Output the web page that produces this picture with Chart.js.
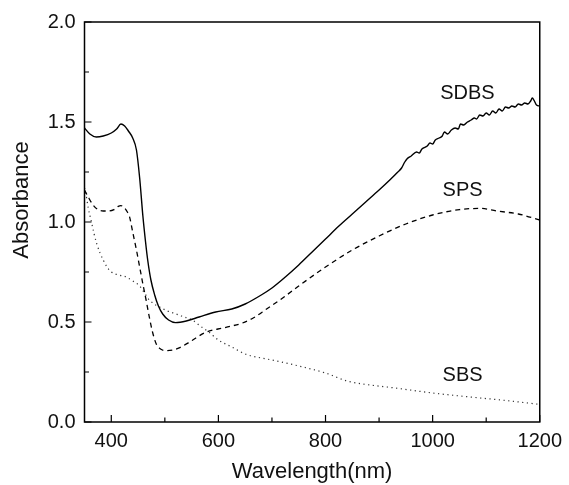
<!DOCTYPE html>
<html>
<head>
<meta charset="utf-8">
<script src="https://cdn.jsdelivr.net/npm/chart.js@4.4.1/dist/chart.umd.min.js"></script>
<style>
  html, body { margin: 0; padding: 0; background: #fff; }
  #wrap { width: 569px; height: 485px; position: relative; }
</style>
</head>
<body>
<div id="wrap"><canvas id="myChart" width="569" height="485"></canvas></div>
<script>
// wavelength (nm) / absorbance
const sdbsX = [350, 360, 372, 385, 400, 410, 418, 425, 432, 440, 447, 453, 459, 464, 468, 474, 481, 488, 496, 507, 520, 540, 564, 595, 625, 650, 680, 700, 725, 750, 775, 800, 825, 850, 875, 900, 920, 935, 942, 948, 952, 960, 970, 975, 980, 990, 995, 1000, 1005, 1012, 1018, 1022, 1028, 1035, 1042, 1048, 1052, 1058, 1065, 1072, 1078, 1082, 1088, 1094, 1100, 1106, 1112, 1118, 1124, 1130, 1136, 1142, 1148, 1154, 1160, 1166, 1172, 1178, 1183, 1186, 1190, 1194, 1200];
const sdbsY = [1.47, 1.44, 1.425, 1.43, 1.445, 1.465, 1.49, 1.48, 1.455, 1.42, 1.36, 1.22, 1.03, 0.9, 0.81, 0.71, 0.635, 0.58, 0.54, 0.51, 0.497, 0.505, 0.525, 0.55, 0.565, 0.59, 0.635, 0.67, 0.725, 0.785, 0.85, 0.915, 0.98, 1.04, 1.1, 1.16, 1.21, 1.25, 1.27, 1.3, 1.315, 1.33, 1.35, 1.345, 1.365, 1.38, 1.395, 1.39, 1.41, 1.42, 1.43, 1.45, 1.44, 1.46, 1.47, 1.465, 1.49, 1.485, 1.5, 1.51, 1.52, 1.515, 1.535, 1.53, 1.545, 1.535, 1.555, 1.545, 1.565, 1.555, 1.575, 1.57, 1.58, 1.575, 1.59, 1.585, 1.595, 1.59, 1.605, 1.62, 1.605, 1.585, 1.58];

const spsX = [350, 358, 366, 375, 385, 395, 405, 413, 418, 425, 430, 434, 440, 447, 453, 459, 465, 471, 477, 484, 492, 503, 515, 528, 542, 558, 575, 590, 605, 625, 645, 665, 690, 720, 750, 800, 850, 900, 950, 1000, 1050, 1090, 1120, 1160, 1200];
const spsY = [1.16, 1.12, 1.085, 1.062, 1.055, 1.055, 1.062, 1.078, 1.082, 1.07, 1.05, 1.027, 0.95, 0.86, 0.775, 0.69, 0.61, 0.525, 0.45, 0.39, 0.365, 0.357, 0.36, 0.372, 0.393, 0.42, 0.447, 0.46, 0.468, 0.48, 0.495, 0.52, 0.565, 0.62, 0.68, 0.775, 0.86, 0.93, 0.99, 1.035, 1.062, 1.068, 1.055, 1.04, 1.01];

const sbsX = [350, 352, 357, 363, 368, 373, 379, 385, 392, 400, 414, 428, 440, 453, 462, 471, 480, 490, 505, 521, 536, 551, 566, 582, 600, 625, 650, 680, 700, 750, 800, 840, 870, 930, 1000, 1070, 1135, 1200];
const sbsY = [1.17, 1.15, 1.07, 1.0, 0.94, 0.89, 0.845, 0.81, 0.775, 0.75, 0.735, 0.725, 0.705, 0.68, 0.645, 0.61, 0.59, 0.575, 0.555, 0.54, 0.525, 0.51, 0.48, 0.45, 0.41, 0.375, 0.34, 0.32, 0.31, 0.28, 0.245, 0.205, 0.19, 0.17, 0.145, 0.125, 0.108, 0.088];

const xTicks = [400, 600, 800, 1000, 1200];
const xMinorTicks = [500, 700, 900, 1100];
const yTicks = [0, 0.5, 1.0, 1.5, 2.0];
const yMinorTicks = [0.25, 0.75, 1.25, 1.75];

const seriesNames = ["SDBS", "SPS", "SBS"];
const labelX = [1065, 1056, 1056];
const labelY = [1.642, 1.158, 0.233];

const FONT = "'Liberation Sans', Arial, Helvetica, sans-serif";

const toPoints = (xs, ys) => xs.map((x, i) => ({ x: x, y: ys[i] }));

// inward ticks, frame, y title and curve names
const decorPlugin = {
  id: "decor",
  afterDraw(chart) {
    const ctx = chart.ctx;
    const { left, right, top, bottom } = chart.chartArea;
    const xs = chart.scales.x;
    const ys = chart.scales.y;
    ctx.save();
    ctx.strokeStyle = "#000";
    ctx.lineWidth = 1.5;
    ctx.strokeRect(left, top, right - left, bottom - top);
    ctx.lineWidth = 1.2;
    ctx.beginPath();
    xTicks.forEach((v) => {
      const px = xs.getPixelForValue(v);
      ctx.moveTo(px, bottom);
      ctx.lineTo(px, bottom - 7);
    });
    xMinorTicks.forEach((v) => {
      const px = xs.getPixelForValue(v);
      ctx.moveTo(px, bottom);
      ctx.lineTo(px, bottom - 4.5);
    });
    yTicks.forEach((v) => {
      const py = ys.getPixelForValue(v);
      ctx.moveTo(left, py);
      ctx.lineTo(left + 7, py);
    });
    yMinorTicks.forEach((v) => {
      const py = ys.getPixelForValue(v);
      ctx.moveTo(left, py);
      ctx.lineTo(left + 4.5, py);
    });
    ctx.stroke();

    ctx.fillStyle = "#111";
    ctx.font = "20px " + FONT;
    ctx.textAlign = "center";
    ctx.textBaseline = "middle";
    seriesNames.forEach((name, i) => {
      ctx.fillText(name, xs.getPixelForValue(labelX[i]), ys.getPixelForValue(labelY[i]));
    });

    // y axis title sits a little above the middle of the frame
    ctx.font = "22px " + FONT;
    ctx.translate(22, ys.getPixelForValue(1.11));
    ctx.rotate(-Math.PI / 2);
    ctx.fillText("Absorbance", 0, 0);
    ctx.restore();
  },
};

const ctx = document.getElementById("myChart").getContext("2d");
const myChart = new Chart(ctx, {
  type: "line",
  data: {
    datasets: [
      {
        label: seriesNames[0],
        data: toPoints(sdbsX, sdbsY),
        borderColor: "#000",
        borderWidth: 1.4,
        pointRadius: 0,
        cubicInterpolationMode: "monotone",
      },
      {
        label: seriesNames[1],
        data: toPoints(spsX, spsY),
        borderColor: "#000",
        borderWidth: 1.3,
        borderDash: [5, 4],
        pointRadius: 0,
        cubicInterpolationMode: "monotone",
      },
      {
        label: seriesNames[2],
        data: toPoints(sbsX, sbsY),
        borderColor: "#333",
        borderWidth: 1.2,
        borderDash: [1.2, 3.5],
        pointRadius: 0,
        cubicInterpolationMode: "monotone",
      },
    ],
  },
  options: {
    responsive: false,
    animation: false,
    layout: { padding: { left: 0, right: 25.5, top: 22, bottom: 0 } },
    plugins: { legend: { display: false }, tooltip: { enabled: false } },
    scales: {
      x: {
        type: "linear",
        min: 350,
        max: 1200,
        grid: { display: false, drawTicks: false },
        border: { display: false },
        afterFit: (s) => { s.height = 63; },
        afterBuildTicks: (s) => { s.ticks = xTicks.map((v) => ({ value: v })); },
        ticks: {
          color: "#111",
          padding: 7,
          maxRotation: 0,
          font: { family: FONT, size: 20 },
          callback: (v) => String(v),
        },
        title: {
          display: true,
          text: "Wavelength(nm)",
          color: "#111",
          padding: { top: 0, bottom: 0 },
          font: { family: FONT, size: 22 },
        },
      },
      y: {
        min: 0,
        max: 2,
        grid: { display: false, drawTicks: false },
        border: { display: false },
        afterFit: (s) => { s.width = 84.5; },
        afterBuildTicks: (s) => { s.ticks = yTicks.map((v) => ({ value: v })); },
        ticks: {
          color: "#111",
          padding: 9,
          font: { family: FONT, size: 20 },
          callback: (v) => v.toFixed(1),
        },
        title: { display: false },
      },
    },
  },
  plugins: [decorPlugin],
});
</script>
</body>
</html>
